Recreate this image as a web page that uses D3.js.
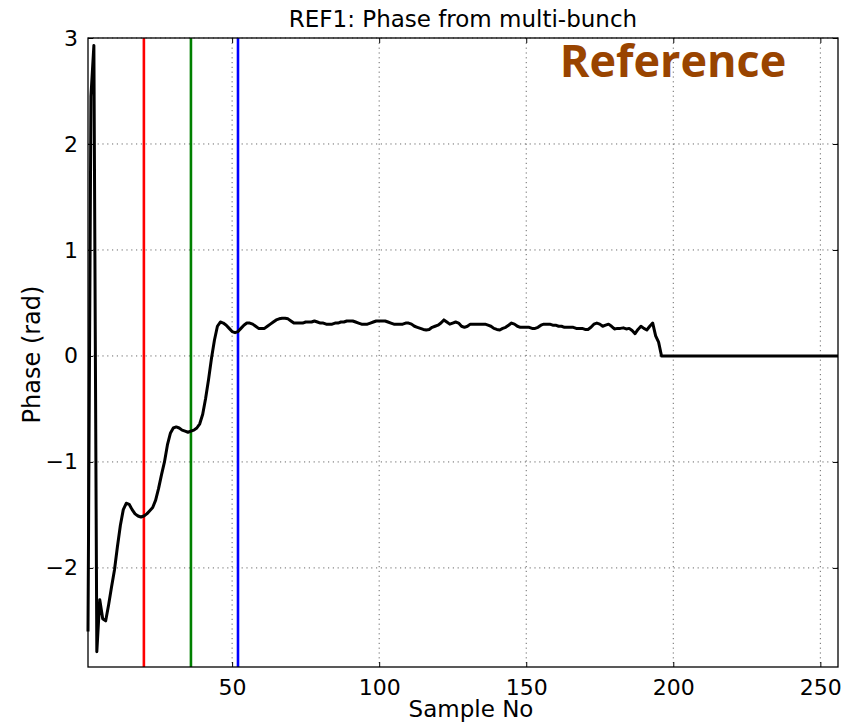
<!DOCTYPE html>
<html>
<head>
<meta charset="utf-8">
<script src="https://cdn.jsdelivr.net/npm/d3@7"></script>
<style>
  body { margin: 0; background: #fff; }
  text { font-family: "DejaVu Sans", sans-serif; fill: #000; }
</style>
</head>
<body>
<svg id="chart" width="854" height="725"></svg>
<script>
// phase values, sample 1..256
let phase = [
  -2.60, 2.45, 2.93, -2.79, -2.30, -2.48, -2.50, -2.35, -2.18, -2.02,
  -1.80, -1.60, -1.45, -1.39, -1.40, -1.45, -1.49, -1.51, -1.52, -1.51,
  -1.49, -1.46, -1.43, -1.36, -1.25, -1.12, -1.00, -0.84, -0.73, -0.68,
  -0.67, -0.68, -0.70, -0.71, -0.72, -0.71, -0.70, -0.68, -0.64, -0.55,
  -0.40, -0.22, -0.02, 0.15, 0.28, 0.32, 0.31, 0.29, 0.26, 0.23,
  0.22, 0.23, 0.26, 0.29, 0.31, 0.31, 0.30, 0.28, 0.26, 0.26,
  0.26, 0.28, 0.30, 0.32, 0.34, 0.35, 0.355, 0.355, 0.35, 0.33,
  0.31, 0.31, 0.31, 0.31, 0.32, 0.32, 0.32, 0.33, 0.32, 0.31,
  0.31, 0.30, 0.30, 0.30, 0.31, 0.31, 0.32, 0.32, 0.33, 0.33,
  0.33, 0.32, 0.31, 0.30, 0.30, 0.30, 0.31, 0.32, 0.33, 0.33,
  0.33, 0.33, 0.32, 0.31, 0.30, 0.30, 0.30, 0.30, 0.31, 0.31,
  0.30, 0.28, 0.27, 0.26, 0.25, 0.245, 0.25, 0.27, 0.28, 0.29,
  0.31, 0.34, 0.32, 0.30, 0.31, 0.32, 0.31, 0.28, 0.27, 0.28,
  0.30, 0.30, 0.30, 0.30, 0.30, 0.30, 0.29, 0.28, 0.26, 0.25,
  0.245, 0.26, 0.27, 0.29, 0.31, 0.30, 0.28, 0.27, 0.27, 0.27,
  0.27, 0.26, 0.26, 0.27, 0.29, 0.30, 0.30, 0.30, 0.29, 0.29,
  0.28, 0.28, 0.27, 0.27, 0.27, 0.27, 0.26, 0.26, 0.26, 0.25,
  0.25, 0.27, 0.30, 0.31, 0.30, 0.28, 0.29, 0.30, 0.28, 0.255,
  0.26, 0.26, 0.265, 0.255, 0.26, 0.24, 0.21, 0.25, 0.28, 0.26,
  0.245, 0.28, 0.31, 0.19, 0.13, 0.00, 0.00, 0.00, 0.00, 0.00,
  0.00, 0.00, 0.00, 0.00, 0.00, 0.00, 0.00, 0.00, 0.00, 0.00,
  0.00, 0.00, 0.00, 0.00, 0.00, 0.00, 0.00, 0.00, 0.00, 0.00,
  0.00, 0.00, 0.00, 0.00, 0.00, 0.00, 0.00, 0.00, 0.00, 0.00,
  0.00, 0.00, 0.00, 0.00, 0.00, 0.00, 0.00, 0.00, 0.00, 0.00,
  0.00, 0.00, 0.00, 0.00, 0.00, 0.00, 0.00, 0.00, 0.00, 0.00,
  0.00, 0.00, 0.00, 0.00, 0.00, 0.00
];

// marker lines (sample no) and their colours
let markers = [20, 36, 52];
let markerColors = ["#ff0000", "#008000", "#0000ff"];

let xTicks = [50, 100, 150, 200, 250];
let yTicks = [-2, -1, 0, 1, 2, 3];

let margin = {top: 38, right: 16, bottom: 58, left: 88};
let W = 854, H = 725;
let w = W - margin.left - margin.right;
let h = H - margin.top - margin.bottom;

let svg = d3.select('#chart');
let g = svg.append('g').attr('transform', `translate(${margin.left},${margin.top})`);

let x = d3.scaleLinear().domain([1, 256]).range([0, w]);
let y = d3.scaleLinear().domain([-2.935, 3]).range([h, 0]);

// grid
g.append('g').selectAll('line').data(xTicks).join('line')
  .attr('x1', d => x(d)).attr('x2', d => x(d)).attr('y1', 0).attr('y2', h)
  .attr('stroke', '#444').attr('stroke-width', 0.8).attr('stroke-dasharray', '1.2,3.6');
g.append('g').selectAll('line').data(yTicks).join('line')
  .attr('x1', 0).attr('x2', w).attr('y1', d => y(d)).attr('y2', d => y(d))
  .attr('stroke', '#444').attr('stroke-width', 0.8).attr('stroke-dasharray', '1.2,3.6');

// vertical markers
g.append('g').selectAll('line').data(markers).join('line')
  .attr('x1', d => x(d)).attr('x2', d => x(d)).attr('y1', 0).attr('y2', h)
  .attr('stroke', (d, i) => markerColors[i]).attr('stroke-width', 2.6);

// phase curve
let line = d3.line().x((d, i) => x(i + 1)).y(d => y(d));
g.append('path').datum(phase).attr('d', line)
  .attr('fill', 'none').attr('stroke', '#000').attr('stroke-width', 3)
  .attr('stroke-linejoin', 'round');

// axes (ticks inside, matplotlib classic)
let xb = g.append('g').attr('transform', `translate(0,${h})`)
  .call(d3.axisBottom(x).tickValues(xTicks).tickSizeInner(-5).tickSizeOuter(0).tickPadding(12));
let xt = g.append('g')
  .call(d3.axisTop(x).tickValues(xTicks).tickSizeInner(-5).tickSizeOuter(0).tickFormat(''));
let yl = g.append('g')
  .call(d3.axisLeft(y).tickValues(yTicks).tickSizeInner(-5).tickSizeOuter(0).tickPadding(10)
    .tickFormat(d => d < 0 ? '\u2212' + Math.abs(d) : d));
let yr = g.append('g').attr('transform', `translate(${w},0)`)
  .call(d3.axisRight(y).tickValues(yTicks).tickSizeInner(-5).tickSizeOuter(0).tickFormat(''));
[xb, xt, yl, yr].forEach(a => {
  a.select('.domain').remove();
  a.selectAll('line').attr('stroke', '#000').attr('stroke-width', 1);
  a.selectAll('text').style('font-family', '"DejaVu Sans", sans-serif').style('font-size', '22px').attr('fill', '#000');
});

// frame
g.append('rect').attr('width', w).attr('height', h)
  .attr('fill', 'none').attr('stroke', '#000').attr('stroke-width', 1.3);

// labels
svg.append('text').attr('x', margin.left + w / 2).attr('y', 27)
  .attr('text-anchor', 'middle').style('font-size', '23px')
  .text('REF1: Phase from multi-bunch');
svg.append('text').attr('x', margin.left + w / 2 + 8).attr('y', 717)
  .attr('text-anchor', 'middle').style('font-size', '23px')
  .text('Sample No');
svg.append('text').attr('transform', `translate(40,${margin.top + h / 2 + 2}) rotate(-90)`)
  .attr('text-anchor', 'middle').style('font-size', '24px')
  .text('Phase (rad)');

svg.append('text').attr('x', 673).attr('y', 77)
  .attr('text-anchor', 'middle')
  .style('font-family', '"Open Sans", sans-serif').style('font-weight', 'bold').style('font-size', '45px')
  .style('fill', '#994400')
  .text('Reference');
</script>
</body>
</html>
